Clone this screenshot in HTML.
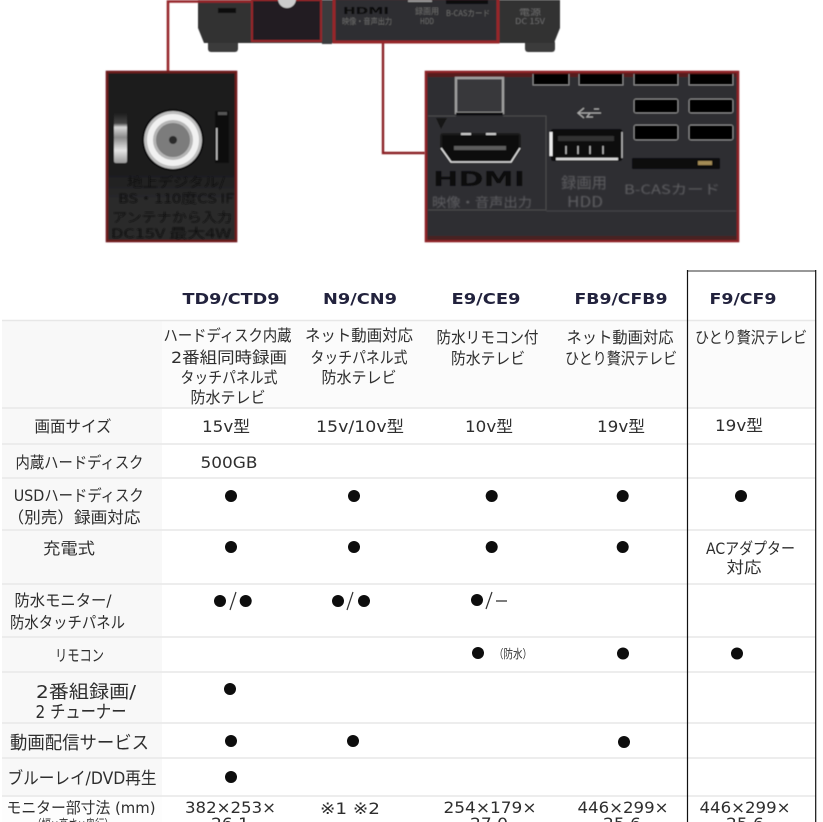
<!DOCTYPE html>
<html lang="ja">
<head>
<meta charset="utf-8">
<style>
html,body{margin:0;padding:0;background:#fff;width:823px;height:822px;overflow:hidden}
svg{display:block}
text{font-family:"DejaVu Sans","Noto Sans CJK JP",sans-serif;fill:#333;text-anchor:middle;font-size:16px}
.j{font-family:"DejaVu Sans","Noto Sans CJK JP",sans-serif;font-weight:400;fill:#2e2e2e}
.h{font-family:"DejaVu Sans",sans-serif;font-weight:700;fill:#20223c;font-size:15.5px}
.p{font-family:"Noto Sans CJK JP","Liberation Sans",sans-serif;fill:#565658;font-size:13px}
.d{fill:#111}
</style>
</head>
<body>
<svg width="823" height="822" viewBox="0 0 823 822" xmlns="http://www.w3.org/2000/svg">
<defs>
<filter id="b1" x="-10%" y="-10%" width="120%" height="120%"><feGaussianBlur stdDeviation="0.9"/></filter>
<filter id="b2" x="-10%" y="-10%" width="120%" height="120%"><feGaussianBlur stdDeviation="0.5"/></filter>
<filter id="b3" x="0" y="0" width="100%" height="100%"><feGaussianBlur stdDeviation="0.35"/></filter>
<linearGradient id="lg" gradientUnits="userSpaceOnUse" x1="0" y1="165" x2="0" y2="200"><stop offset="0" stop-color="#1a1a1b"/><stop offset="1" stop-color="#2a2a2b"/></linearGradient>
<linearGradient id="sl" x1="0" y1="0" x2="0" y2="1"><stop offset="0" stop-color="#1a1a1a"/><stop offset=".22" stop-color="#444"/><stop offset=".3" stop-color="#d8d8d8"/><stop offset=".5" stop-color="#8a8a8a"/><stop offset=".75" stop-color="#e5e5e5"/><stop offset="1" stop-color="#999"/></linearGradient>
</defs>

<g filter="url(#b2)">
<!-- device -->
<rect x="208" y="40" width="30" height="12" rx="3" fill="#3a3a3a"/>
<rect x="525" y="40" width="30" height="12" rx="3" fill="#3a3a3a"/>
<path d="M198 0H560V28L554 43H204L198 28Z" fill="#303032"/>
<rect x="218" y="8" width="18" height="5" fill="#111"/>
<rect x="252" y="0" width="69" height="41" fill="#201f20" stroke="#96262b" stroke-width="2"/>
<rect x="322" y="0" width="10" height="44" fill="#3a3a3c"/>
<rect x="334" y="-2" width="164" height="44" fill="#2f2f31" stroke="#96262b" stroke-width="3"/>
<circle cx="287" cy="-1" r="9" fill="#ccc"/>
<rect x="446" y="0" width="42" height="4" fill="#111"/>
<rect x="408" y="0" width="24" height="2" fill="#999"/>
<text x="366" y="14" style="font-size:10px;font-weight:700;fill:#0c0c0c" textLength="46" lengthAdjust="spacingAndGlyphs">HDMI</text>
<text class="p" x="367" y="24" style="font-size:8px;fill:#6a6a6a" textLength="50" lengthAdjust="spacingAndGlyphs">映像・音声出力</text>
<text class="p" x="427" y="14" style="font-size:8px;fill:#6a6a6a" textLength="24" lengthAdjust="spacingAndGlyphs">録画用</text>
<text class="p" x="427" y="24" style="font-size:8px;fill:#6a6a6a" textLength="14" lengthAdjust="spacingAndGlyphs">HDD</text>
<text class="p" x="468" y="16" style="font-size:8px;fill:#6a6a6a" textLength="44" lengthAdjust="spacingAndGlyphs">B-CASカード</text>
<text class="p" x="530" y="15" style="font-size:8px;fill:#6a6a6a" textLength="22" lengthAdjust="spacingAndGlyphs">電源</text>
<text class="p" x="530" y="24" style="font-size:8px;fill:#6a6a6a" textLength="30" lengthAdjust="spacingAndGlyphs">DC 15V</text>

<!-- connectors -->
<path d="M168 71V1.5H252" fill="none" stroke="#96262b" stroke-width="2.6"/>
<path d="M383 43V153H425" fill="none" stroke="#8c2227" stroke-width="2.4"/>

<!-- left inset -->
<rect x="107" y="72" width="129" height="169" fill="url(#lg)" stroke="#6d1a1f" stroke-width="2.6"/>
<rect x="114" y="112" width="13" height="51" rx="2" fill="url(#sl)"/>
<circle cx="173" cy="140" r="31" fill="#0a0a0a"/>
<circle cx="173" cy="140" r="29" fill="#bdbdbd"/>
<circle cx="173" cy="140" r="26" fill="#f1f1f1"/>
<circle cx="173" cy="140" r="20" fill="#b5b5b5"/>
<circle cx="173" cy="140" r="17" fill="#7b7b7b"/>
<circle cx="173" cy="140" r="4" fill="#2a2a2a"/>
<rect x="215" y="111" width="14" height="52" rx="1" fill="#070707"/>
<rect x="216" y="128" width="1.6" height="32" fill="#bbb"/>
<rect x="218" y="112" width="9" height="3" fill="#555"/>
</g>
<g filter="url(#b1)">
<text class="p d" x="176" y="187" textLength="98" lengthAdjust="spacingAndGlyphs">地上デジタル/</text>
<text class="p d" x="176" y="203" textLength="116" lengthAdjust="spacingAndGlyphs">BS・110度CS IF</text>
<text class="p d" x="172" y="222" textLength="120" lengthAdjust="spacingAndGlyphs">アンテナから入力</text>
<text class="p d" x="171" y="238" textLength="120" lengthAdjust="spacingAndGlyphs">DC15V 最大4W</text>
</g>

<g filter="url(#b2)">
<!-- right inset -->
<rect x="426" y="72" width="312" height="169" fill="#2f2f31" stroke="#8c2227" stroke-width="2.6"/>
<rect x="428" y="73" width="308" height="4" fill="#571a1e"/>
<rect x="428" y="236" width="308" height="4" fill="#4a2023"/>
<g fill="#050505" stroke="#8a8a8a" stroke-width="1">
<path d="M533 74V85H569V74"/><path d="M579 74V85H623V74"/><path d="M634 74V85H678V74"/><path d="M689 74V85H733V74"/>
<rect x="634" y="99" width="44" height="14" rx="2"/><rect x="689" y="99" width="44" height="14" rx="2"/>
<rect x="634" y="125" width="44" height="15" rx="2"/><rect x="689" y="125" width="44" height="15" rx="2"/>
</g>
<path d="M456 78H503V113H456Z" fill="#38383a" stroke="#a0a0a0" stroke-width="2.4"/>
<path d="M456 114H503" stroke="#111" stroke-width="3"/>
<path d="M428 116H456M503 116H546V210H428" fill="none" stroke="#4c4c4e"/>
<path d="M546 211H736" stroke="#444446"/>
<path d="M436 118L447 118L441 129Z" fill="#141414"/>
<path d="M443 134H518Q520 134 520 137V150L511 162H451L441 150V137Q441 134 443 134Z" fill="#0c0c0c" stroke="#1b1b1b" stroke-width="2"/>
<path d="M441 148L451 162H511L520 148" fill="none" stroke="#ddd" stroke-width="1.6"/>
<path d="M461 134H471M486 134H496" stroke="#ccc" stroke-width="2"/>
<rect x="454" y="146" width="52" height="4" fill="#5c5c5c"/>
<rect x="551" y="129" width="71" height="32" rx="2" fill="#101010"/>
<path d="M551 132V156" stroke="#eee" stroke-width="3"/>
<path d="M622 132V158" stroke="#bbb" stroke-width="1.4"/>
<path d="M556 159H618" stroke="#ddd" stroke-width="2.4"/>
<rect x="558" y="136" width="56" height="5" fill="#333"/>
<g stroke="#bbb" stroke-width="1.4"><path d="M566 146v8M578 146v8M590 146v8M603 146v8"/></g>
<path d="M578 113H601M584 108l-6 5 6 5M594 109h5M590 113l-3 4h6" stroke="#aaa" stroke-width="1.3" fill="none"/>
<rect x="632" y="158" width="88" height="11" rx="1" fill="#070707"/>
<rect x="698" y="161" width="14" height="4" fill="#a38b55"/>
<text x="479" y="186" style="font-size:20px;font-weight:700;fill:#0a0a0a" textLength="92" lengthAdjust="spacingAndGlyphs">HDMI</text>
</g>
<g filter="url(#b1)">
<text class="p" x="482" y="207" style="fill:#5e5e62" textLength="100" lengthAdjust="spacingAndGlyphs">映像・音声出力</text>
<text class="p" x="584" y="188" style="font-size:15px;fill:#5e5e62" textLength="46" lengthAdjust="spacingAndGlyphs">録画用</text>
<text class="p" x="585" y="207" style="font-size:15px;fill:#5e5e62" textLength="36" lengthAdjust="spacingAndGlyphs">HDD</text>
<text class="p" x="672" y="194" style="fill:#5e5e62" textLength="96" lengthAdjust="spacingAndGlyphs">B-CASカード</text>
</g>

<!-- table -->
<rect x="2" y="320" width="815" height="88" fill="#fbfbfb"/>
<rect x="2" y="320" width="160" height="476" fill="#f8f8f8"/>
<rect x="2" y="796" width="160" height="26" fill="#fdfdfd"/>
<g stroke="#e7e7e7" stroke-width="1.6">
<path d="M2 320.5H816M2 408H816M2 444H816M2 478H816M2 530H816M2 584H816M2 637H816M2 672H816M2 723H816M2 758H816M2 796H816"/>
</g>
<path d="M687.5 271H816" stroke="#777" stroke-width="1.6"/>
<path d="M687.5 270V822M815.7 270V822" stroke="#111" stroke-width="1.2"/>

<g filter="url(#b3)">
<!-- headers -->
<text class="h" x="231" y="304" textLength="97" lengthAdjust="spacingAndGlyphs">TD9/CTD9</text>
<text class="h" x="360" y="304" textLength="74" lengthAdjust="spacingAndGlyphs">N9/CN9</text>
<text class="h" x="486" y="304" textLength="69" lengthAdjust="spacingAndGlyphs">E9/CE9</text>
<text class="h" x="621" y="304" textLength="93" lengthAdjust="spacingAndGlyphs">FB9/CFB9</text>
<text class="h" x="743" y="304" textLength="67" lengthAdjust="spacingAndGlyphs">F9/CF9</text>

<!-- descriptions -->
<text class="j" x="227.5" y="341" textLength="128" lengthAdjust="spacingAndGlyphs">ハードディスク内蔵</text>
<text class="j" x="229" y="363" textLength="116" lengthAdjust="spacingAndGlyphs">2番組同時録画</text>
<text class="j" x="229" y="383" textLength="97" lengthAdjust="spacingAndGlyphs">タッチパネル式</text>
<text class="j" x="228" y="403" textLength="75" lengthAdjust="spacingAndGlyphs">防水テレビ</text>
<text class="j" x="359" y="341" textLength="108" lengthAdjust="spacingAndGlyphs">ネット動画対応</text>
<text class="j" x="359" y="363" textLength="97" lengthAdjust="spacingAndGlyphs">タッチパネル式</text>
<text class="j" x="359" y="383" textLength="75" lengthAdjust="spacingAndGlyphs">防水テレビ</text>
<text class="j" x="487.5" y="343" textLength="102" lengthAdjust="spacingAndGlyphs">防水リモコン付</text>
<text class="j" x="488" y="364" textLength="74" lengthAdjust="spacingAndGlyphs">防水テレビ</text>
<text class="j" x="620" y="343" textLength="107" lengthAdjust="spacingAndGlyphs">ネット動画対応</text>
<text class="j" x="621" y="364" textLength="112" lengthAdjust="spacingAndGlyphs">ひとり贅沢テレビ</text>
<text class="j" x="751" y="343" textLength="112" lengthAdjust="spacingAndGlyphs">ひとり贅沢テレビ</text>

<!-- size row -->
<text class="j" x="73" y="432" textLength="77" lengthAdjust="spacingAndGlyphs">画面サイズ</text>
<text class="j" x="226" y="432" textLength="48" lengthAdjust="spacingAndGlyphs">15v型</text>
<text class="j" x="360" y="432" textLength="88" lengthAdjust="spacingAndGlyphs">15v/10v型</text>
<text class="j" x="489" y="432" textLength="48" lengthAdjust="spacingAndGlyphs">10v型</text>
<text class="j" x="621" y="432" textLength="48" lengthAdjust="spacingAndGlyphs">19v型</text>
<text class="j" x="739" y="431" textLength="48" lengthAdjust="spacingAndGlyphs">19v型</text>

<!-- row labels -->
<text class="j" x="79.5" y="468" textLength="128" lengthAdjust="spacingAndGlyphs">内蔵ハードディスク</text>
<text class="j" x="229" y="468" textLength="57" lengthAdjust="spacingAndGlyphs">500GB</text>
<text class="j" x="78.7" y="501" textLength="130" lengthAdjust="spacingAndGlyphs">USDハードディスク</text>
<text class="j" x="74" y="523" textLength="133" lengthAdjust="spacingAndGlyphs">（別売）録画対応</text>
<text class="j" x="69" y="554" textLength="52" lengthAdjust="spacingAndGlyphs">充電式</text>
<text class="j" x="750.5" y="554" textLength="89" lengthAdjust="spacingAndGlyphs">ACアダプター</text>
<text class="j" x="744" y="573" textLength="35" lengthAdjust="spacingAndGlyphs">対応</text>
<text class="j" x="63" y="606" textLength="97" lengthAdjust="spacingAndGlyphs">防水モニター/</text>
<text class="j" x="67.5" y="628" textLength="115" lengthAdjust="spacingAndGlyphs">防水タッチパネル</text>
<text class="j" x="79.5" y="661" textLength="49" lengthAdjust="spacingAndGlyphs">リモコン</text>
<text class="j" x="86" y="698" style="font-size:18px" textLength="100" lengthAdjust="spacingAndGlyphs">2番組録画/</text>
<text class="j" x="81" y="718" style="font-size:18px" textLength="91" lengthAdjust="spacingAndGlyphs">2 チューナー</text>
<text class="j" x="79.5" y="749" style="font-size:18px" textLength="139" lengthAdjust="spacingAndGlyphs">動画配信サービス</text>
<text class="j" x="82" y="784" style="font-size:17px" textLength="149" lengthAdjust="spacingAndGlyphs">ブルーレイ/DVD再生</text>
<text class="j" x="81" y="813" style="font-size:15.5px" textLength="149" lengthAdjust="spacingAndGlyphs">モニター部寸法 (mm)</text>
<text class="j" x="73" y="829" style="font-size:13px" textLength="82" lengthAdjust="spacingAndGlyphs">（幅×高さ×奥行）</text>

<!-- dimensions -->
<text class="j" x="230.5" y="813" textLength="91" lengthAdjust="spacingAndGlyphs">382×253×</text>
<text class="j" x="230" y="829" textLength="38" lengthAdjust="spacingAndGlyphs">26.1</text>
<text class="j" x="350" y="814" textLength="60" lengthAdjust="spacingAndGlyphs">※1 ※2</text>
<text class="j" x="490" y="813" textLength="93" lengthAdjust="spacingAndGlyphs">254×179×</text>
<text class="j" x="489" y="829" textLength="38" lengthAdjust="spacingAndGlyphs">27.0</text>
<text class="j" x="623" y="813" textLength="91" lengthAdjust="spacingAndGlyphs">446×299×</text>
<text class="j" x="622" y="829" textLength="38" lengthAdjust="spacingAndGlyphs">25.6</text>
<text class="j" x="745" y="813" textLength="91" lengthAdjust="spacingAndGlyphs">446×299×</text>
<text class="j" x="745" y="829" textLength="38" lengthAdjust="spacingAndGlyphs">25.6</text>

<!-- dots -->
<g fill="#0c0c0c">
<circle cx="231" cy="496" r="6"/><circle cx="354" cy="496" r="6"/><circle cx="491.7" cy="496" r="6"/><circle cx="622.7" cy="496" r="6"/><circle cx="741" cy="496" r="6"/>
<circle cx="231" cy="547" r="6"/><circle cx="354" cy="547" r="6"/><circle cx="491.7" cy="547" r="6"/><circle cx="622.7" cy="547" r="6"/>
<circle cx="220" cy="601" r="6"/><circle cx="245.7" cy="601" r="6"/>
<circle cx="338" cy="601" r="6"/><circle cx="364" cy="601" r="6"/>
<circle cx="477" cy="600" r="6"/>
<circle cx="478" cy="653" r="6"/><circle cx="623" cy="653.5" r="6"/><circle cx="737" cy="653.5" r="6"/>
<circle cx="230" cy="689" r="6"/>
<circle cx="231" cy="741" r="6"/><circle cx="353" cy="741" r="6"/><circle cx="624" cy="742" r="6"/>
<circle cx="231" cy="777" r="6"/>
</g>
<path d="M230 610L236 592M347 610L353 592M486 609L492 592" stroke="#333" stroke-width="1.2" fill="none"/>
<path d="M496 601H507" stroke="#444" stroke-width="1.4"/>
<text class="j" x="513" y="658" style="font-size:12px" textLength="38" lengthAdjust="spacingAndGlyphs">（防水）</text>
</g>
</svg>
</body>
</html>
